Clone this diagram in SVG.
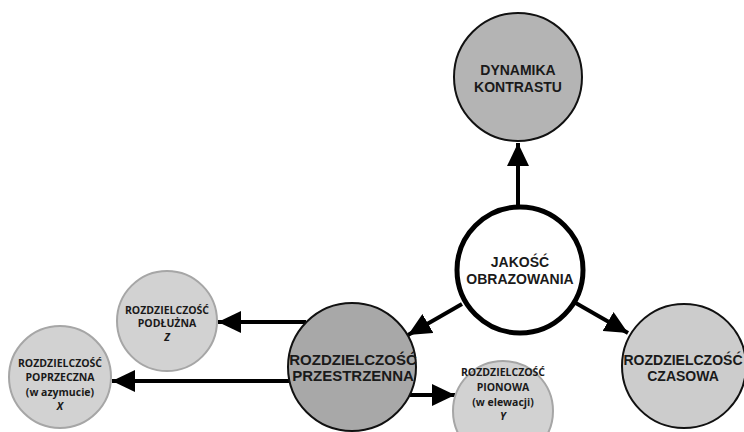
<svg xmlns="http://www.w3.org/2000/svg" width="744" height="432" viewBox="0 0 744 432">
<style>
.big{font-family:"Liberation Sans",Arial,sans-serif;font-weight:bold;font-size:14px;fill:#1a1a1a;text-anchor:middle}
.sm{font-family:"Open Sans",sans-serif;font-weight:bold;font-size:10.5px;fill:#1a1a1a;text-anchor:middle}
.conn{stroke:#000;stroke-width:4;fill:none}
</style>
<defs>
<marker id="ah" markerUnits="userSpaceOnUse" markerWidth="24" markerHeight="22" refX="23" refY="11" orient="auto">
<path d="M0,0 L23,11 L0,22 Z" fill="#000"/>
</marker>
</defs>
<rect width="744" height="432" fill="#fff"/>
<g id="connectors">
<line class="conn" x1="518" y1="206" x2="518" y2="143" marker-end="url(#ah)"/>
<line class="conn" x1="462" y1="304" x2="408" y2="335" marker-end="url(#ah)"/>
<line class="conn" x1="574" y1="302" x2="628" y2="333" marker-end="url(#ah)"/>
<line class="conn" x1="306" y1="322" x2="218" y2="322" marker-end="url(#ah)"/>
<line class="conn" x1="290" y1="381" x2="112" y2="381" marker-end="url(#ah)"/>
<line class="conn" x1="410" y1="395" x2="455" y2="395" marker-end="url(#ah)"/>
</g>
<g id="dynamika">
<circle cx="518" cy="77" r="64" fill="#b4b4b4" stroke="#111" stroke-width="2"/>
<text class="big" x="518" y="75">DYNAMIKA</text>
<text class="big" x="518" y="92">KONTRASTU</text>
</g>
<g id="jakosc">
<circle cx="520" cy="270" r="63" fill="#fff" stroke="#000" stroke-width="5"/>
<text class="big" x="520" y="267">JAKOŚĆ</text>
<text class="big" x="520" y="284">OBRAZOWANIA</text>
</g>
<g id="przestrzenna">
<circle cx="352" cy="367" r="64" fill="#a8a8a8" stroke="#111" stroke-width="2"/>
<text class="big" x="353" y="365" style="font-size:15px">ROZDZIELCZOŚĆ</text>
<text class="big" x="353" y="381" style="font-size:15px">PRZESTRZENNA</text>
</g>
<g id="czasowa">
<circle cx="684" cy="366" r="62" fill="#cccccc" stroke="#111" stroke-width="2"/>
<text class="big" x="683" y="365">ROZDZIELCZOŚĆ</text>
<text class="big" x="683" y="381">CZASOWA</text>
</g>
<g id="podluzna">
<circle cx="167" cy="321" r="50" fill="#d2d2d2" stroke="#a6a6a6" stroke-width="2"/>
<text class="sm" x="167" y="314">ROZDZIELCZOŚĆ</text>
<text class="sm" x="167" y="327">PODŁUŻNA</text>
<text class="sm" x="167" y="341" font-style="italic">Z</text>
</g>
<g id="poprzeczna">
<circle cx="60" cy="377" r="51" fill="#d2d2d2" stroke="#a6a6a6" stroke-width="2"/>
<text class="sm" x="60" y="367">ROZDZIELCZOŚĆ</text>
<text class="sm" x="60" y="381">POPRZECZNA</text>
<text class="sm" x="60" y="396">(w azymucie)</text>
<text class="sm" x="60" y="410" font-style="italic">X</text>
</g>
<g id="pionowa">
<circle cx="503" cy="411" r="50" fill="#d2d2d2" stroke="#a6a6a6" stroke-width="2"/>
<text class="sm" x="503" y="376">ROZDZIELCZOŚĆ</text>
<text class="sm" x="503" y="391">PIONOWA</text>
<text class="sm" x="503" y="406">(w elewacji)</text>
<text class="sm" x="503" y="420" font-style="italic">Y</text>
</g>
</svg>
